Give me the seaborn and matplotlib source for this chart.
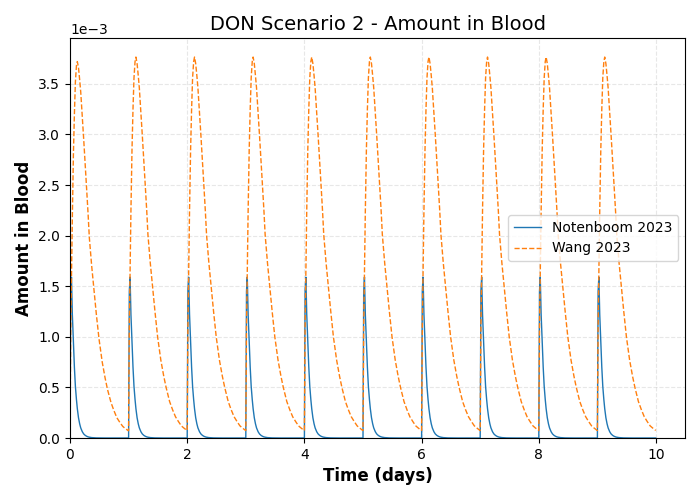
import numpy as np
import pandas as pd
import seaborn as sns
import matplotlib
matplotlib.use("Agg")
import matplotlib.pyplot as plt

# dosing once a day, days 0..9
dose_days = [0, 1, 2, 3, 4, 5, 6, 7, 8, 9]

cycle_offsets = [0.000, 0.012, 0.025, 0.040, 0.058, 0.075, 0.092, 0.110, 0.125,
                 0.145, 0.165, 0.183, 0.210, 0.234, 0.260, 0.285, 0.310, 0.330,
                 0.370, 0.410, 0.450, 0.495, 0.550, 0.600, 0.640, 0.700, 0.750,
                 0.800, 0.850, 0.900, 0.940, 0.995]

# Notenboom 2023 (x1e-3), same for every dose
noten_cycle = [0.000, 1.450, 1.590, 1.220, 0.950, 0.700, 0.510, 0.380, 0.290,
               0.200, 0.140, 0.100, 0.062, 0.040, 0.026, 0.017, 0.011, 0.008,
               0.004, 0.002, 0.001, 0.0005, 0.0002, 0.0, 0.0, 0.0, 0.0,
               0.0, 0.0, 0.0, 0.0, 0.0]

# Wang 2023 (x1e-3), first day and the following days
wang_first = [0.000, 1.050, 1.600, 2.180, 2.800, 3.200, 3.520, 3.680, 3.720,
              3.660, 3.540, 3.420, 3.180, 2.950, 2.700, 2.450, 2.200, 1.980,
              1.700, 1.460, 1.220, 0.980, 0.750, 0.590, 0.480, 0.350, 0.270,
              0.200, 0.155, 0.115, 0.095, 0.072]
wang_cycle = [0.075, 1.100, 1.650, 2.250, 2.850, 3.250, 3.560, 3.720, 3.765,
              3.700, 3.580, 3.460, 3.220, 2.990, 2.740, 2.490, 2.240, 2.010,
              1.730, 1.490, 1.250, 1.000, 0.770, 0.610, 0.500, 0.360, 0.280,
              0.210, 0.163, 0.120, 0.100, 0.075]

rows = []
for d in dose_days:
    wang = wang_first if d == 0 else wang_cycle
    for off, n, w in zip(cycle_offsets, noten_cycle, wang):
        rows.append((d + off, n * 1e-3, "Notenboom 2023"))
        rows.append((d + off, w * 1e-3, "Wang 2023"))
df = pd.DataFrame(rows, columns=["time", "amount", "model"])

fig, ax = plt.subplots(figsize=(7, 5), dpi=100)

sns.lineplot(data=df[df["model"] == "Notenboom 2023"], x="time", y="amount",
             color="#1f77b4", linewidth=1, label="Notenboom 2023",
             estimator=None, sort=False, ax=ax)
sns.lineplot(data=df[df["model"] == "Wang 2023"], x="time", y="amount",
             color="#ff7f0e", linewidth=1, linestyle="--", label="Wang 2023",
             estimator=None, sort=False, ax=ax)

ax.set_xlim(0, 10.5)
ax.set_ylim(bottom=0)
ax.ticklabel_format(axis="y", style="sci", scilimits=(0, 0))
ax.set_title("DON Scenario 2 - Amount in Blood", fontsize=14)
ax.set_xlabel("Time (days)", fontsize=12, fontweight="bold")
ax.set_ylabel("Amount in Blood", fontsize=12, fontweight="bold")
ax.grid(True, linestyle="--", alpha=0.3)
ax.legend(loc="center right")

fig.subplots_adjust(left=0.1, right=0.979, top=0.924, bottom=0.124)
fig.savefig("out.png", dpi=100)
